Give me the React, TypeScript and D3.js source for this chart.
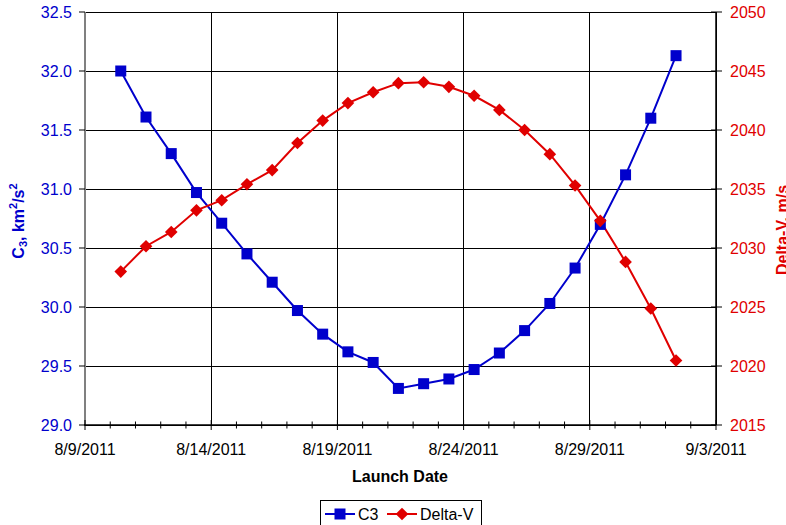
import { useEffect, useRef } from "react";
import * as d3 from "d3";

// launch dates (one per day), C3 in km^2/s^2, Delta-V in m/s
const launchDates = [
  "2011-08-10", "2011-08-11", "2011-08-12", "2011-08-13", "2011-08-14", "2011-08-15",
  "2011-08-16", "2011-08-17", "2011-08-18", "2011-08-19", "2011-08-20", "2011-08-21",
  "2011-08-22", "2011-08-23", "2011-08-24", "2011-08-25", "2011-08-26", "2011-08-27",
  "2011-08-28", "2011-08-29", "2011-08-30", "2011-08-31", "2011-09-01",
];
const c3Values = [
  32.0, 31.61, 31.3, 30.97, 30.71, 30.45, 30.21, 29.97, 29.77, 29.62, 29.53, 29.31,
  29.35, 29.39, 29.47, 29.61, 29.8, 30.03, 30.33, 30.7, 31.12, 31.6, 32.13,
];
const deltaVValues = [
  2028.0, 2030.15, 2031.36, 2033.19, 2034.05, 2035.4, 2036.6, 2038.9, 2040.8, 2042.28,
  2043.2, 2043.97, 2044.05, 2043.66, 2042.9, 2041.7, 2040.0, 2037.95, 2035.3, 2032.3,
  2028.82, 2024.87, 2020.47,
];
const xTickLabels = ["8/9/2011", "8/14/2011", "8/19/2011", "8/24/2011", "8/29/2011", "9/3/2011"];
const c3Ticks = [29.0, 29.5, 30.0, 30.5, 31.0, 31.5, 32.0, 32.5];
const dvTicks = [2015, 2020, 2025, 2030, 2035, 2040, 2045, 2050];
const seriesNames = ["C3", "Delta-V"];

const BLUE = "#0000cc";
const RED = "#e00000";
const FONT = "'Liberation Sans', Arial, sans-serif";

const App = () => {
  const ref = useRef<SVGSVGElement>(null);

  useEffect(() => {
    const svg = d3.select(ref.current);
    svg.selectAll("*").remove();

    const left = 85, right = 716, top = 12, bottom = 425;
    const parse = d3.timeParse("%m/%d/%Y");
    const parseIso = d3.timeParse("%Y-%m-%dT%H:%M");
    const pts = launchDates.map((d, i) => ({
      date: parseIso(d + "T10:00") as Date,
      c3: c3Values[i],
      dv: deltaVValues[i],
    }));

    const x = d3
      .scaleTime()
      .domain([parse("08/09/2011") as Date, parse("09/03/2011") as Date])
      .range([left, right]);
    const yL = d3.scaleLinear().domain([29, 32.5]).range([bottom, top]);
    const yR = d3.scaleLinear().domain([2015, 2050]).range([bottom, top]);

    const majorDates = xTickLabels.map((s) => {
      const [m, d, y] = s.split("/");
      return parse(`${m.padStart(2, "0")}/${d.padStart(2, "0")}/${y}`) as Date;
    });
    const dayTicks = d3.timeDay.range(x.domain()[0], d3.timeDay.offset(x.domain()[1], 1));

    // grid
    const grid = svg.append("g");
    c3Ticks.forEach((t) => {
      grid.append("line")
        .attr("x1", left).attr("x2", right)
        .attr("y1", yL(t)).attr("y2", yL(t))
        .attr("stroke", "#000").attr("stroke-width", 1).attr("shape-rendering", "crispEdges");
    });
    majorDates.forEach((d) => {
      grid.append("line")
        .attr("x1", x(d)).attr("x2", x(d))
        .attr("y1", top).attr("y2", bottom)
        .attr("stroke", "#000").attr("stroke-width", 1).attr("shape-rendering", "crispEdges");
    });

    // axes lines
    svg.append("line")
      .attr("x1", left).attr("x2", left).attr("y1", top).attr("y2", bottom)
      .attr("stroke", "#808080").attr("stroke-width", 2);
    svg.append("line")
      .attr("x1", right).attr("x2", right).attr("y1", top).attr("y2", bottom)
      .attr("stroke", "#000").attr("stroke-width", 1.5);
    svg.append("line")
      .attr("x1", left - 1).attr("x2", right).attr("y1", bottom).attr("y2", bottom)
      .attr("stroke", "#000").attr("stroke-width", 1.5);

    // x ticks
    dayTicks.forEach((d) => {
      const major = majorDates.some((m) => +m === +d);
      svg.append("line")
        .attr("x1", x(d)).attr("x2", x(d))
        .attr("y1", major ? bottom - 5 : bottom - 3.5)
        .attr("y2", major ? bottom + 5 : bottom + 3.5)
        .attr("stroke", "#000").attr("stroke-width", 1);
    });
    svg.append("g").selectAll("text").data(majorDates).enter().append("text")
      .attr("x", (d) => x(d)).attr("y", 455)
      .attr("text-anchor", "middle")
      .attr("font-family", FONT).attr("font-size", 16).attr("fill", "#000")
      .text((d, i) => xTickLabels[i]);

    // left ticks
    c3Ticks.forEach((t) => {
      svg.append("line").attr("x1", left - 6).attr("x2", left).attr("y1", yL(t)).attr("y2", yL(t))
        .attr("stroke", "#000").attr("stroke-width", 1);
      svg.append("text").attr("x", 72).attr("y", yL(t) + 6)
        .attr("text-anchor", "end").attr("font-family", FONT).attr("font-size", 16)
        .attr("fill", BLUE).text(t.toFixed(1));
    });
    // right ticks
    dvTicks.forEach((t) => {
      svg.append("line").attr("x1", right - 5).attr("x2", right + 6).attr("y1", yR(t)).attr("y2", yR(t))
        .attr("stroke", "#000").attr("stroke-width", 1);
      svg.append("text").attr("x", 730).attr("y", yR(t) + 6)
        .attr("text-anchor", "start").attr("font-family", FONT).attr("font-size", 16)
        .attr("fill", RED).text(String(t));
    });

    // series lines
    const lineC3 = d3.line<any>().x((d) => x(d.date)).y((d) => yL(d.c3));
    const lineDv = d3.line<any>().x((d) => x(d.date)).y((d) => yR(d.dv));
    svg.append("path").datum(pts).attr("d", lineC3)
      .attr("fill", "none").attr("stroke", BLUE).attr("stroke-width", 2);
    svg.append("path").datum(pts).attr("d", lineDv)
      .attr("fill", "none").attr("stroke", RED).attr("stroke-width", 2);

    svg.append("g").selectAll("rect").data(pts).enter().append("rect")
      .attr("x", (d) => x(d.date) - 5.5).attr("y", (d) => yL(d.c3) - 5.5)
      .attr("width", 11).attr("height", 11).attr("fill", BLUE);
    const diamond = d3.symbol().type(d3.symbolSquare).size(80);
    svg.append("g").selectAll("path").data(pts).enter().append("path")
      .attr("d", diamond)
      .attr("transform", (d) => `translate(${x(d.date)},${yR(d.dv)}) rotate(45)`)
      .attr("fill", RED);

    // axis titles
    svg.append("text")
      .attr("x", 400).attr("y", 482).attr("text-anchor", "middle")
      .attr("font-family", FONT).attr("font-size", 16).attr("font-weight", "bold")
      .text("Launch Date");

    const lt = svg.append("text")
      .attr("transform", "translate(24,221) rotate(-90)")
      .attr("text-anchor", "middle")
      .attr("font-family", FONT).attr("font-size", 16).attr("font-weight", "bold")
      .attr("fill", BLUE);
    lt.append("tspan").text("C");
    lt.append("tspan").attr("font-size", 11).attr("dy", 3).text("3");
    lt.append("tspan").attr("dy", -3).text(", km");
    lt.append("tspan").attr("font-size", 11).attr("dy", -7).text("2");
    lt.append("tspan").attr("dy", 7).text("/s");
    lt.append("tspan").attr("font-size", 11).attr("dy", -7).text("2");

    svg.append("text")
      .attr("transform", "translate(788,230) rotate(-90)")
      .attr("text-anchor", "middle")
      .attr("font-family", FONT).attr("font-size", 16).attr("font-weight", "bold")
      .attr("fill", RED)
      .text("Delta-V, m/s");

    // legend
    const lg = svg.append("g");
    lg.append("rect").attr("x", 320.5).attr("y", 500.5).attr("width", 161).attr("height", 28)
      .attr("fill", "#fff").attr("stroke", "#000").attr("stroke-width", 1);
    const items = [
      { name: seriesNames[0], color: BLUE, x0: 325 },
      { name: seriesNames[1], color: RED, x0: 387 },
    ];
    items.forEach((it, i) => {
      lg.append("line").attr("x1", it.x0).attr("x2", it.x0 + 30).attr("y1", 514).attr("y2", 514)
        .attr("stroke", it.color).attr("stroke-width", 2);
      if (i === 0) {
        lg.append("rect").attr("x", it.x0 + 9.5).attr("y", 508.5).attr("width", 11).attr("height", 11)
          .attr("fill", it.color);
      } else {
        lg.append("path").attr("d", diamond)
          .attr("transform", `translate(${it.x0 + 15},514) rotate(45)`).attr("fill", it.color);
      }
      lg.append("text").attr("x", it.x0 + 33).attr("y", 520)
        .attr("font-family", FONT).attr("font-size", 16).attr("fill", "#000").text(it.name);
    });
  }, []);

  return (
    <svg
      ref={ref}
      width={786}
      height={525}
      style={{ position: "absolute", left: 0, top: 0, background: "#fff" }}
    />
  );
};

export default App;
